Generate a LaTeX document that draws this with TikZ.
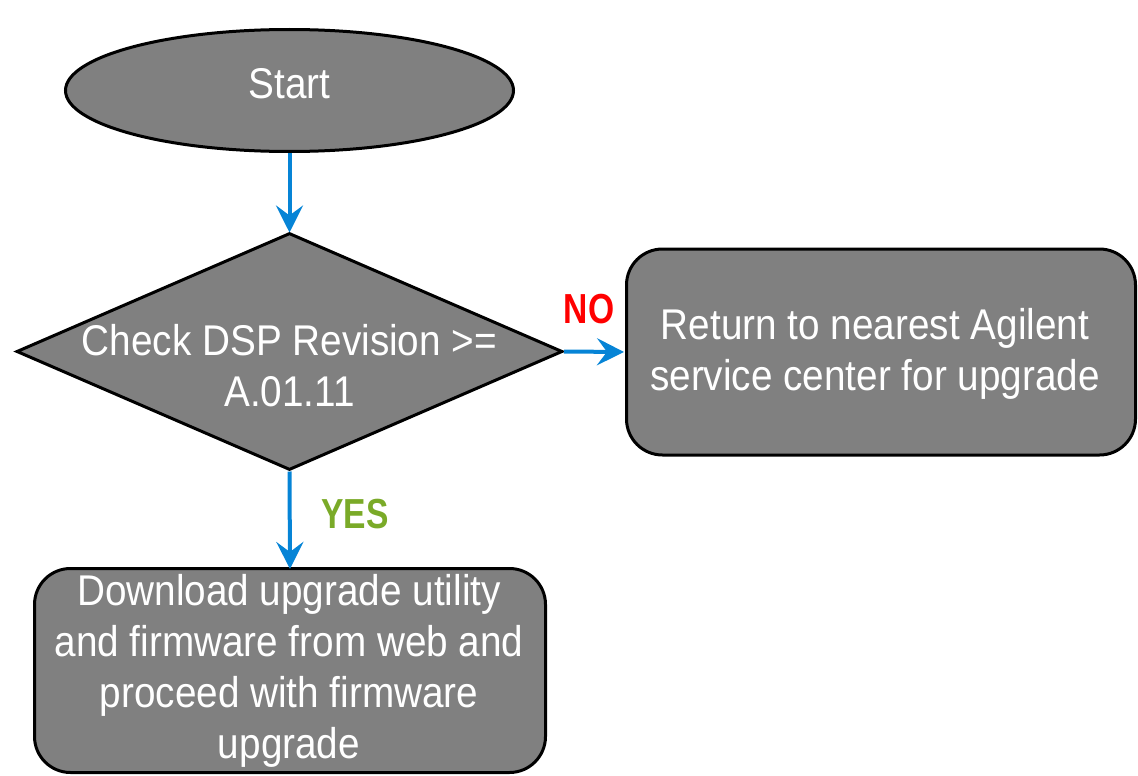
\documentclass[tikz,border=0pt]{standalone}
\usepackage{fontspec}
\setmainfont{Liberation Sans}[FakeStretch=0.9]
\newfontfamily\lblfont{Liberation Sans}[FakeStretch=0.8]
\usetikzlibrary{shapes.geometric,arrows.meta}
\definecolor{boxgray}{RGB}{128,128,128}
\definecolor{arrowblue}{RGB}{6,132,214}
\definecolor{yesgreen}{RGB}{122,170,40}
\definecolor{nored}{RGB}{255,0,0}
\begin{document}
\begin{tikzpicture}[x=1pt,y=-1pt,
  shapebase/.style={draw=black,line width=3pt,fill=boxgray,inner sep=0pt},
  startshape/.style={shapebase,ellipse,minimum width=448pt,minimum height=122pt},
  decision/.style={shapebase,diamond,minimum width=546pt,minimum height=237pt},
  procbox/.style={shapebase,rectangle,rounded corners=36pt},
  txt/.style={text=white,align=center,inner sep=0pt,font=\fontsize{43}{51}\selectfont},
  flowarrow/.style={draw=arrowblue,line width=4pt,-{Stealth[length=27pt,width=27pt,inset=10pt]}},
  lbl/.style={font=\lblfont\bfseries\fontsize{42}{51}\selectfont,inner sep=0pt}
]
\useasboundingbox (0,0) rectangle (1138,776);
\node[startshape] (start) at (289.5,90.5) {};
\node[txt] (starttxt) at (289.5,84) {Start};
\node[decision] (chk) at (289.5,351.5) {};
\node[txt] (chktxt) at (289.5,366) {Check DSP Revision >=\\A.01.11};
\node[procbox,minimum width=509pt,minimum height=206pt] (ret) at (881,352) {};
\node[txt] (rettxt) at (875,354) {Return to nearest Agilent\\service center for upgrade};
\node[procbox,minimum width=511pt,minimum height=204pt] (dl) at (290,670.5) {};
\node[txt] (dltxt) at (289,671) {Download upgrade utility\\and firmware from web and\\proceed with firmware\\upgrade};
\draw[flowarrow] (start.south) -- ([yshift=-1pt]chk.north);
\draw[flowarrow] (chk.east) -- ([xshift=-1pt]ret.west);
\draw[flowarrow] (chk.south) -- ([yshift=-2pt]dl.north);
\node[lbl,text=nored] (no) at (589,309) {NO};
\node[lbl,text=yesgreen] (yes) at (355,514) {YES};
\end{tikzpicture}
\end{document}
